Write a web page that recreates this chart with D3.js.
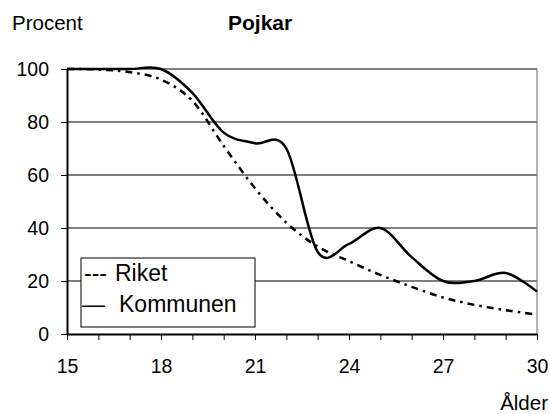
<!DOCTYPE html>
<html>
<head>
<meta charset="utf-8">
<script src="https://cdn.jsdelivr.net/npm/d3@7"></script>
<style>
  html, body { margin: 0; padding: 0; background: #fff; }
  svg { display: block; font-family: "Liberation Sans", Arial, sans-serif; }
</style>
</head>
<body>
<svg id="chart" width="550" height="414"></svg>
<script>
// Data
const ages = [15, 16, 17, 18, 19, 20, 21, 22, 23, 24, 25, 26, 27, 28, 29, 30];
const riket = [100, 99.8, 98.8, 96, 88, 71, 55, 42, 33, 27.5, 22.3, 17.8, 13.8, 11, 9, 7.3];
const kommunen = [100, 100, 100, 100, 91, 76, 72, 70, 31, 34, 40, 29, 20, 20, 23, 16];
const yTicks = [0, 20, 40, 60, 80, 100];
const xLabelTicks = [15, 18, 21, 24, 27, 30];
const xMinorTicks = d3.range(15, 31, 1);
const seriesNames = ["Riket", "Kommunen"];
const title = "Pojkar";
const yTitle = "Procent";
const xTitle = "Ålder";

const svg = d3.select("#chart");
const x = d3.scaleLinear().domain([15, 30]).range([67, 537]);
const y = d3.scaleLinear().domain([0, 100]).range([334, 69]);

// gridlines
svg.append("g").selectAll("line").data(yTicks.filter(d => d > 0)).join("line")
  .attr("x1", x(15)).attr("x2", x(30))
  .attr("y1", d => y(d)).attr("y2", d => y(d))
  .attr("stroke", "#000").attr("stroke-width", 1);

// right border
svg.append("line").attr("x1", x(30)).attr("x2", x(30)).attr("y1", y(100)).attr("y2", y(0))
  .attr("stroke", "#808080").attr("stroke-width", 1.2);

// y axis
const yAxis = svg.append("g").attr("transform", `translate(${x(15)},0)`)
  .call(d3.axisLeft(y).tickValues(yTicks).tickSize(6).tickPadding(12).tickSizeOuter(0));
yAxis.select(".domain").attr("stroke", "#000").attr("stroke-width", 2);
yAxis.selectAll(".tick line").attr("stroke", "#000").attr("stroke-width", 1);
yAxis.selectAll(".tick text").attr("font-size", "19.5px").attr("fill", "#000")
  .attr("font-family", "Liberation Sans, Arial, sans-serif");

// x axis
const xAxis = svg.append("g").attr("transform", `translate(0,${y(0)})`)
  .call(d3.axisBottom(x).tickValues(xMinorTicks).tickSize(6).tickSizeOuter(0)
    .tickFormat(d => xLabelTicks.includes(d) ? d : ""));
xAxis.select(".domain").attr("stroke", "#000").attr("stroke-width", 2);
xAxis.selectAll(".tick line").attr("stroke", "#000").attr("stroke-width", 1);
xAxis.selectAll(".tick text").attr("font-size", "19.5px").attr("fill", "#000")
  .attr("font-family", "Liberation Sans, Arial, sans-serif")
  .attr("dy", null).attr("y", 39);

// lines
const line = d3.line().x((d, i) => x(ages[i])).y(d => y(d)).curve(d3.curveCardinal.tension(0));
svg.append("path").datum(riket).attr("d", line)
  .attr("fill", "none").attr("stroke", "#000").attr("stroke-width", 2.5)
  .attr("stroke-dasharray", "7,5,2.5,5");
svg.append("path").datum(kommunen).attr("d", line)
  .attr("fill", "none").attr("stroke", "#000").attr("stroke-width", 2.5);

// legend
const lg = svg.append("g");
lg.append("rect").attr("x", 81).attr("y", 258).attr("width", 174).attr("height", 69)
  .attr("fill", "#fff").attr("stroke", "#000").attr("stroke-width", 1);
lg.append("text").attr("x", 84).attr("y", 281).attr("font-size", "23px").text("---");
lg.append("text").attr("x", 115).attr("y", 281).attr("font-size", "23px").text(seriesNames[0]);
lg.append("text").attr("x", 82).attr("y", 312).attr("font-size", "23px").text("—");
lg.append("text").attr("x", 119).attr("y", 312).attr("font-size", "23px").text(seriesNames[1]);

// titles
svg.append("text").attr("x", 12).attr("y", 30).attr("font-size", "20.5px").text(yTitle);
svg.append("text").attr("x", 228).attr("y", 30).attr("font-size", "21px").attr("font-weight", "bold").text(title);
svg.append("text").attr("x", 548).attr("y", 410).attr("text-anchor", "end").attr("font-size", "20.5px").text(xTitle);
</script>
</body>
</html>
